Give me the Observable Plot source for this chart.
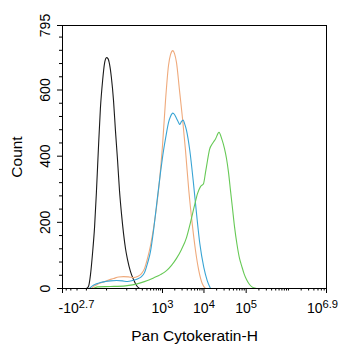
<!DOCTYPE html>
<html><head><meta charset="utf-8">
<script src="https://cdn.jsdelivr.net/npm/d3@7"></script>
<script src="https://cdn.jsdelivr.net/npm/@observablehq/plot@0.6"></script>
<style>
body{margin:0;background:#fff;}
#chart svg{font-family:"Liberation Sans", Arial, sans-serif;}
</style></head><body><div id="chart"></div>
<script>
// x values: fluorescence intensity (Pan Cytokeratin-H), y values: Count
const blackX = [-99,-84,-70,-58,-46,-37,-28,-20,-12,-6,0,4,9,15,23,31,41,51,63,76,90,106,134,167,205,250];
const blackY = [0,6,42,103,187,290,423,544,629,680,698,695,677,638,568,478,387,296,224,166,121,88,51,27,9,0];

const orangeX = [-64,-46,-28,-9,6,23,46,76,115,167,219,285,344,414,497,594,708,843,1001,1188,1407,1575,1792,1971,2203,2602,3075,3629,4352,5248,6290,7540,9080,10880];
const orangeY = [0,8,14,20,26,30,35,36,35,33,36,45,60,91,130,181,245,326,432,568,674,707,719,710,683,599,514,417,296,196,115,54,15,0];

const blueX = [-77,-58,-37,-20,-3,12,36,69,106,155,219,285,344,414,497,594,708,893,1060,1188,1432,1575,1792,1971,2203,2462,2647,2908,3195,3434,3834,4598,5544,6645,7965,9915,11940,14300];
const blueY = [0,8,14,18,21,23,24,23,21,24,29,36,48,76,112,175,251,351,417,453,505,520,530,526,514,502,496,505,509,499,478,417,326,227,136,64,24,0];

const greenX = [-52,-32,12,90,155,267,414,594,893,1257,1666,2203,2908,3834,4779,5955,7020,8275,9750,10880,12135,13540,15950,18790,22740,26790,30700,34240,38190,42590,47500,52970,60710,69580,77600,88930,101900,119960,149150,175600];
const greenY = [0,5,6,8,11,17,24,32,42,54,70,91,118,154,200,251,287,308,317,351,387,420,438,452,472,450,423,393,351,296,242,187,133,91,70,45,27,12,2,0];

const xMajorTicks = [-501.19, 1000, 10000, 100000, 7943282];
const xMajorLabels = ["-10^2.7", "10^3", "10^4", "10^5", "10^6.9"];
const xMinorTicks = [-400,-300,-200,-100,0,100,200,300,400,500,600,700,800,900,
  2000,3000,4000,5000,6000,7000,8000,9000,
  20000,30000,40000,50000,60000,70000,80000,90000,
  200000,300000,400000,500000,600000,700000,800000,900000,
  1000000,2000000,3000000,4000000,5000000,6000000,7000000];
const yMajorTicks = [0, 200, 400, 600, 795];
const yMinorTicks = [40,80,120,160,240,280,320,360,440,480,520,560,640,680,720,760];

const seriesNames = ["control", "sample A", "sample B", "sample C"];
const seriesColors = ["#1a1a1a", "#efaa7c", "#38a4d4", "#66c955"];
const seriesX = [blackX, orangeX, blueX, greenX];
const seriesY = [blackY, orangeY, blueY, greenY];

const rows = [];
seriesNames.forEach((name, k) => {
  seriesX[k].forEach((x, i) => rows.push({series: name, x, y: seriesY[k][i]}));
});

const labelMap = new Map(xMajorTicks.map((t, i) => [t, xMajorLabels[i]]));

const chart = Plot.plot({
  width: 342, height: 350,
  marginLeft: 62, marginRight: 16, marginTop: 25, marginBottom: 62,
  style: {fontFamily: "Liberation Sans, Arial, sans-serif", fontSize: "14px", background: "white", color: "black", overflow: "visible"},
  x: {type: "symlog", constant: 50, domain: [xMajorTicks[0], xMajorTicks[4]]},
  y: {domain: [0, 795]},
  color: {domain: seriesNames, range: seriesColors},
  marks: [
    Plot.axisX({ticks: xMinorTicks, tickSize: 2.5, tickFormat: () => "", label: null}),
    Plot.axisX({ticks: xMajorTicks, tickSize: 5, tickPadding: 10, tickFormat: d => labelMap.get(d),
      label: "Pan Cytokeratin-H", labelAnchor: "center", labelOffset: 52, labelArrow: "none"}),
    Plot.axisY({ticks: yMinorTicks, tickSize: 3, tickFormat: () => "", label: null}),
    Plot.axisY({ticks: yMajorTicks, tickSize: 5, tickPadding: 8, tickRotate: -90,
      label: "Count", labelAnchor: "center", labelOffset: 52, labelArrow: "none"}),
    Plot.line(rows, {x: "x", y: "y", z: "series", stroke: "series", strokeWidth: 1.1, curve: "monotone-x"}),
    Plot.frame({stroke: "black", strokeWidth: 1})
  ]
});

const ns = "http://www.w3.org/2000/svg";
chart.querySelectorAll("text").forEach(t => {
  const s = t.textContent;
  if (s.includes("^")) {
    const [base, exp] = s.split("^");
    t.textContent = "";
    const b = document.createElementNS(ns, "tspan"); b.textContent = base;
    const e = document.createElementNS(ns, "tspan"); e.textContent = exp;
    e.setAttribute("dy", "-0.45em"); e.setAttribute("font-size", "0.8em");
    t.append(b, e);
    if (base.startsWith("-")) t.setAttribute("dx", "14");
    if (exp === "6.9") t.setAttribute("dx", "-4");
  }
  if (s === "Pan Cytokeratin-H" || s === "Count") t.setAttribute("font-size", "15.5px");
});
document.getElementById("chart").append(chart);
</script></body></html>
